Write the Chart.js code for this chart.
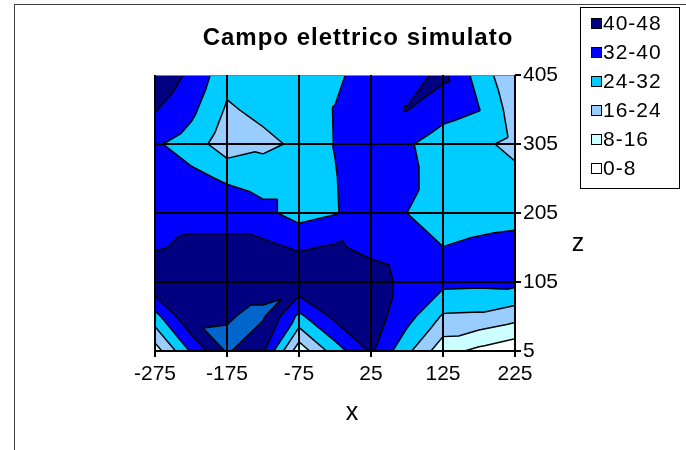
<!DOCTYPE html>
<html>
<head>
<meta charset="utf-8">
<script src="https://cdn.jsdelivr.net/npm/chart.js@4.4.0/dist/chart.umd.min.js"></script>
<style>
  html, body { margin: 0; padding: 0; background: #fff; }
  #wrap { position: relative; width: 686px; height: 450px; overflow: hidden;
          font-family: "Liberation Sans", Arial, sans-serif; color: #000; }
  #frame { position: absolute; left: 14px; top: 4px; width: 720px; height: 500px;
           border-left: 1px solid #404040; border-top: 1px solid #404040; }
  canvas { position: absolute; left: 0; top: 0; }
  #title { position: absolute; left: 358px; top: 23px; transform: translateX(-50%);
           white-space: nowrap; font-weight: bold; font-size: 24px; line-height: 28px; letter-spacing: 1px; }
  .axlabel { position: absolute; transform: translateX(-50%); font-size: 25px; line-height: 30px; }
  #legend { position: absolute; left: 580px; top: 7px; width: 98px; height: 180px;
            border: 1px solid #000; background: #fff; }
  .item { position: absolute; left: 10px; height: 24px; line-height: 24px; font-size: 21px;
          letter-spacing: 1px; white-space: nowrap; }
  .sw { position: absolute; left: 0; top: 7px; width: 9px; height: 9px; border: 1px solid #000; }
  .txt { position: absolute; left: 12px; top: 0; }
</style>
</head>
<body>
<div id="wrap">
  <div id="frame"></div>
  <canvas id="chart" width="686" height="450"></canvas>
  <div id="title">Campo elettrico simulato</div>
  <div class="axlabel" style="left:352px; top:396px;">x</div>
  <div class="axlabel" style="left:578px; top:227px;">z</div>
  <div id="legend"></div>
</div>
<script>
// ===================================
// DATA (grid)
// ===================================

const xValues = [-275, -225, -175, -125, -75, -25, 25, 75, 125, 175, 225];
// rows from the top of the plot (z = 405) down to the bottom (z = 5)
const zValues = [405, 355, 305, 255, 205, 155, 105, 55, 5];

const row405 = [46, 38.3, 26.5, 28, 28, 30, 37, 37, 41.8, 28.7, 17];
const row355 = [40.5, 34, 23, 26, 28, 32.3, 37, 40.3, 35, 32.3, 20];
const row305 = [33, 28.5, 19, 22, 25.5, 32.2, 36, 33, 28, 25.6, 22];
const row255 = [35, 34, 31, 29, 29, 31.7, 36, 34, 28, 27, 26];
const row205 = [36, 37, 37, 34, 29, 31.5, 36, 32, 28, 29, 30];
const row155 = [39, 42, 42, 42, 39, 41, 38, 36, 32.1, 33.5, 34];
const row105 = [47.5, 46, 46, 46, 47, 45, 44, 37.5, 34.4, 34, 34.5];
const row55 = [29, 47.5, 47.67, 49, 30, 42, 44, 35, 23, 22.5, 19];
const row5 = [12, 33, 49, 41, 11, 28, 41, 26, 11, 6, 2];
const fieldRows = [row405, row355, row305, row255, row205, row155, row105, row55, row5];

// legend entries
const legendLabels = ['40-48', '32-40', '24-32', '16-24', '8-16', '0-8'];
const legendColors = ['#000080', '#0000FF', '#00CCFF', '#99CCFF', '#CCFFFF', '#FFFFFF'];

// filled bands (the first one, above 48, is drawn but has no legend entry)
const bandLow = [48, 40, 32, 24, 16, 8, -Infinity];
const bandHigh = [Infinity, 48, 40, 32, 24, 16, 8];
const bandColors = ['#0066CC', '#000080', '#0000FF', '#00CCFF', '#99CCFF', '#CCFFFF', '#FFFFFF'];
const contourLevels = [8, 16, 24, 32, 40, 48];

const xTicks = [-275, -175, -75, 25, 125, 225];
const zTicks = [5, 105, 205, 305, 405];

// ===================================
// LEGEND
// ===================================

const legend = document.getElementById('legend');
legendLabels.forEach((label, i) => {
    const item = document.createElement('div');
    item.className = 'item';
    item.style.top = (3 + i * 29) + 'px';
    item.innerHTML = '<span class="sw" style="background:' + legendColors[i] + '"></span>' +
                     '<span class="txt">' + label + '</span>';
    legend.appendChild(item);
});

// ===================================
// CONTOUR PLUGIN
// ===================================

// split every grid cell in two triangles, along the diagonal with the higher values
function buildTriangles() {
    const tris = [];
    for (let r = 0; r < zValues.length - 1; r++) {
        for (let c = 0; c < xValues.length - 1; c++) {
            const tl = {x: xValues[c], z: zValues[r], v: fieldRows[r][c]};
            const tr = {x: xValues[c + 1], z: zValues[r], v: fieldRows[r][c + 1]};
            const bl = {x: xValues[c], z: zValues[r + 1], v: fieldRows[r + 1][c]};
            const br = {x: xValues[c + 1], z: zValues[r + 1], v: fieldRows[r + 1][c + 1]};
            if (bl.v + tr.v >= tl.v + br.v) {
                tris.push([bl, br, tr]);
                tris.push([bl, tr, tl]);
            } else {
                tris.push([tl, bl, br]);
                tris.push([tl, br, tr]);
            }
        }
    }
    return tris;
}

function clipPoly(poly, level, keepAbove) {
    const out = [];
    const inside = p => keepAbove ? p.v >= level : p.v <= level;
    for (let i = 0; i < poly.length; i++) {
        const a = poly[i];
        const b = poly[(i + 1) % poly.length];
        const ia = inside(a), ib = inside(b);
        if (ia) out.push(a);
        if (ia !== ib) {
            const t = (level - a.v) / (b.v - a.v);
            out.push({x: a.x + t * (b.x - a.x), z: a.z + t * (b.z - a.z), v: level});
        }
    }
    return out;
}

const contourPlugin = {
    id: 'contour',
    beforeDatasetsDraw(chart) {
        const {ctx, chartArea, scales} = chart;
        const xs = scales.x, ys = scales.y;
        const tris = buildTriangles();
        ctx.save();
        ctx.beginPath();
        ctx.rect(chartArea.left, chartArea.top, chartArea.right - chartArea.left, chartArea.bottom - chartArea.top);
        ctx.clip();

        // filled bands
        bandColors.forEach((color, b) => {
            ctx.beginPath();
            tris.forEach(tri => {
                let poly = tri;
                if (isFinite(bandLow[b])) poly = clipPoly(poly, bandLow[b], true);
                if (poly.length >= 3 && isFinite(bandHigh[b])) poly = clipPoly(poly, bandHigh[b], false);
                if (poly.length < 3) return;
                poly.forEach((p, i) => {
                    const px = xs.getPixelForValue(p.x), py = ys.getPixelForValue(p.z);
                    if (i === 0) ctx.moveTo(px, py); else ctx.lineTo(px, py);
                });
                ctx.closePath();
            });
            ctx.fillStyle = color;
            ctx.fill();
        });

        // contour lines
        ctx.strokeStyle = '#000';
        ctx.lineWidth = 1.5;
        ctx.lineJoin = 'round';
        ctx.beginPath();
        contourLevels.forEach(level => {
            const L = level + 1e-7;
            tris.forEach(tri => {
                const pts = [];
                for (let i = 0; i < 3; i++) {
                    const a = tri[i], b = tri[(i + 1) % 3];
                    if ((a.v - L) * (b.v - L) < 0) {
                        const t = (L - a.v) / (b.v - a.v);
                        pts.push([xs.getPixelForValue(a.x + t * (b.x - a.x)),
                                  ys.getPixelForValue(a.z + t * (b.z - a.z))]);
                    }
                }
                if (pts.length === 2) {
                    ctx.moveTo(pts[0][0], pts[0][1]);
                    ctx.lineTo(pts[1][0], pts[1][1]);
                }
            });
        });
        ctx.stroke();
        ctx.restore();
    },
    afterDatasetsDraw(chart) {
        // grid lines, axis lines and tick marks on top of the contour
        const {ctx, chartArea, scales} = chart;
        const xs = scales.x, ys = scales.y;
        const px = v => Math.round(xs.getPixelForValue(v));
        const py = v => Math.round(ys.getPixelForValue(v));
        ctx.save();
        ctx.lineCap = 'butt';
        ys.ticks.forEach(t => {
            if (t.value === 405) {
                ctx.lineWidth = 1;
                ctx.strokeStyle = '#808080';
                ctx.beginPath();
                ctx.moveTo(chartArea.left, py(t.value) + 0.5);
                ctx.lineTo(chartArea.right, py(t.value) + 0.5);
                ctx.stroke();
            } else {
                ctx.lineWidth = 2;
                ctx.strokeStyle = '#000';
                ctx.beginPath();
                ctx.moveTo(chartArea.left, py(t.value));
                ctx.lineTo(chartArea.right, py(t.value));
                ctx.stroke();
            }
            ctx.lineWidth = 2;
            ctx.strokeStyle = '#000';
            ctx.beginPath();
            ctx.moveTo(chartArea.right, py(t.value));
            ctx.lineTo(chartArea.right + 6, py(t.value));
            ctx.stroke();
        });
        ctx.lineWidth = 2;
        ctx.strokeStyle = '#000';
        xs.ticks.forEach(t => {
            ctx.beginPath();
            ctx.moveTo(px(t.value), chartArea.top);
            ctx.lineTo(px(t.value), chartArea.bottom + 6);
            ctx.stroke();
        });
        ctx.beginPath();
        ctx.moveTo(chartArea.left, py(5));
        ctx.lineTo(chartArea.right + 1, py(5));
        ctx.stroke();
        ctx.restore();
    }
};

// ===================================
// CHART
// ===================================

const tickFont = {family: '"Liberation Sans", Arial, sans-serif', size: 21};

new Chart(document.getElementById('chart'), {
    type: 'scatter',
    data: {datasets: []},
    options: {
        responsive: false,
        animation: false,
        devicePixelRatio: 1,
        layout: {padding: {left: 155, top: 75, right: 111, bottom: 24}},
        plugins: {legend: {display: false}, tooltip: {enabled: false}, title: {display: false}},
        scales: {
            x: {
                type: 'linear',
                min: -275,
                max: 225,
                afterBuildTicks: scale => { scale.ticks = xTicks.map(v => ({value: v})); },
                afterFit: scale => { scale.height = 75; },
                ticks: {color: '#000', font: tickFont, padding: 6, maxRotation: 0, autoSkip: false},
                grid: {color: 'rgba(0,0,0,0)', tickLength: 5},
                border: {display: false}
            },
            y: {
                type: 'linear',
                position: 'right',
                min: 5,
                max: 405,
                afterBuildTicks: scale => { scale.ticks = zTicks.map(v => ({value: v})); },
                afterFit: scale => { scale.width = 60; },
                ticks: {color: '#000', font: tickFont, padding: 3, autoSkip: false},
                grid: {color: 'rgba(0,0,0,0)', tickLength: 5},
                border: {display: false}
            }
        }
    },
    plugins: [contourPlugin]
});
</script>
</body>
</html>
